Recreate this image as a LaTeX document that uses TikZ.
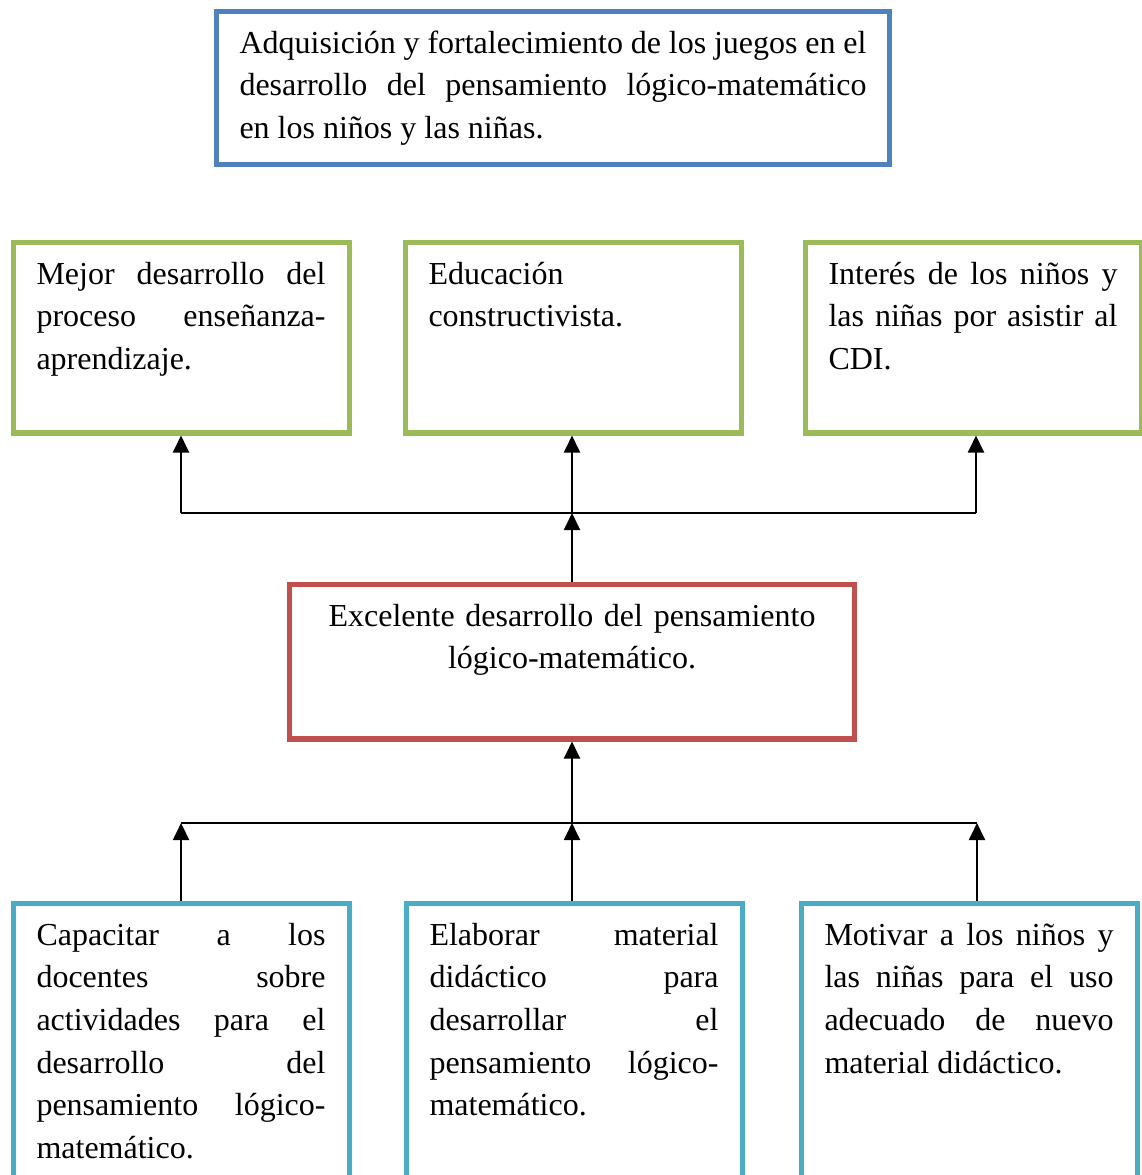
\documentclass[tikz,border=0pt]{standalone}
\usepackage{fontspec}
\setmainfont{Liberation Serif}
\usepackage{tikz}
\usetikzlibrary{arrows.meta, positioning}
\tikzset{>=Triangle}

\definecolor{azul}{HTML}{4F81BD}
\definecolor{verde}{HTML}{9BBB59}
\definecolor{rojo}{HTML}{C0504D}
\definecolor{celeste}{HTML}{4BACC6}

\tolerance=9999 \hbadness=10000 \hyphenpenalty=10000

\tikzset{
	caja/.style={draw=#1, line width=1.9pt, anchor=north west, inner xsep=8.8pt, inner ysep=4pt,
		text height=11.75pt, text width=108.4pt, align=justify, font=\fontsize{12}{16}\selectfont},
	flecha/.style={-{Triangle[length=6.4pt,width=6pt]}, line width=0.8pt},
	linea/.style={line width=0.8pt}
}

\begin{document}
\begin{tikzpicture}[x=0.375pt,y=-0.375pt]
		\clip (0,0) rectangle (1142,1175);
		
		% problema
		\node (problema) at (213.5,8.5) [caja=azul, text width=235.1pt, text depth=37.65pt]
		{Adquisición y fortalecimiento de los juegos en el\linebreak desarrollo del pensamiento lógico-matemático\linebreak en los niños y las niñas.};
		
		% efectos
		\node (mejor) at (10.5,239.5) [caja=verde, text depth=51.85pt]
		{Mejor desarrollo del\linebreak proceso enseñanza-\linebreak aprendizaje.};
		\node (educacion) at (402.5,239.5) [caja=verde, text depth=51.85pt]
		{Educación\\constructivista.};
		\node (interes) at (802.5,239.5) [caja=verde, text depth=51.85pt]
		{Interés de los niños y\linebreak las niñas por asistir al\linebreak CDI.};
		
		% central
		\node (excelente) at (287,581.5) [caja=rojo, align=center, text width=194.25pt, text depth=38.35pt]
		{Excelente desarrollo del pensamiento\\lógico-matemático.};
		
		% medios
		\node (capacitar) at (10.5,900.5) [caja=celeste, text depth=100pt]
		{Capacitar a los\linebreak docentes sobre\linebreak actividades para el\linebreak desarrollo del\linebreak pensamiento lógico-\linebreak matemático.};
		\node (elaborar) at (403.5,900.5) [caja=celeste, text depth=100pt]
		{Elaborar material\linebreak didáctico para\linebreak desarrollar el\linebreak pensamiento lógico-\linebreak matemático.};
		\node (motivar) at (798.5,900.5) [caja=celeste, text depth=100pt]
		{Motivar a los niños y\linebreak las niñas para el uso\linebreak adecuado de nuevo\linebreak material didáctico.};
		
		\coordinate (ramaA) at (181,513);
		\coordinate (ramaB) at (976,513);
		\coordinate (baseA) at (181,823);
		\coordinate (baseB) at (977,823);
		
		\draw [linea] (ramaA)--(ramaB);
		\draw [flecha] (ramaA)--(ramaA |- mejor.south);
		\draw [flecha] (excelente.north |- ramaA)--(excelente.north |- educacion.south);
		\draw [flecha] (ramaB)--(ramaB |- interes.south);
		\draw [flecha] (excelente.north)--(excelente.north |- ramaA);
		
		\draw [linea] (baseA)--(baseB);
		\draw [flecha] (excelente.south |- baseA)--(excelente.south);
		\draw [flecha] (capacitar.north)--(capacitar.north |- baseA);
		\draw [flecha] (excelente.south |- elaborar.north)--(excelente.south |- baseA);
		\draw [flecha] (motivar.north -| baseB)--(baseB);
		
\end{tikzpicture}
\end{document}
